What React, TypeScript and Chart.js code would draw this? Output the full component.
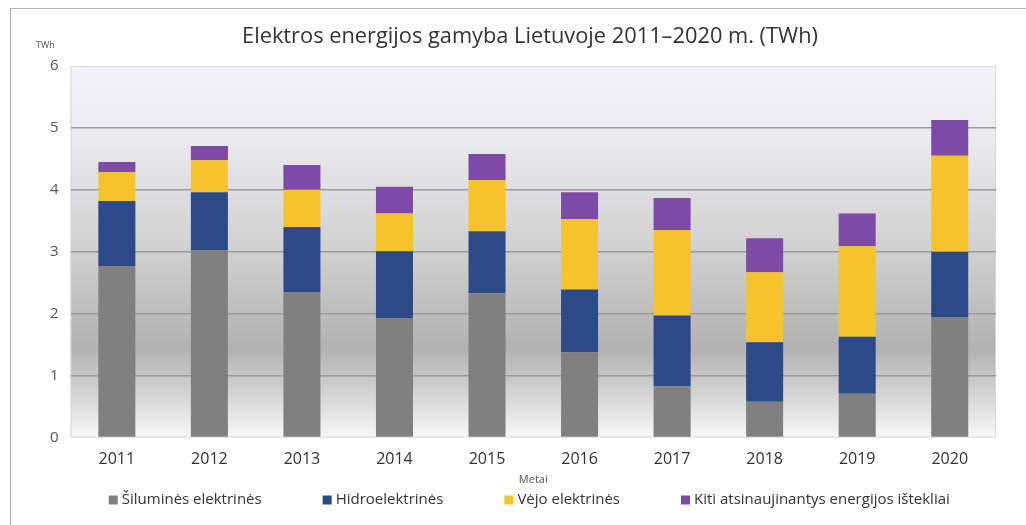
import React, { useEffect, useRef } from "react";
import { Chart, registerables } from "chart.js";

Chart.register(...registerables);

const years = ["2011", "2012", "2013", "2014", "2015", "2016", "2017", "2018", "2019", "2020"];
const thermal = [2.77, 3.03, 2.35, 1.93, 2.33, 1.38, 0.83, 0.58, 0.71, 1.94];
const hydro = [1.05, 0.93, 1.05, 1.08, 1.0, 1.01, 1.14, 0.96, 0.92, 1.06];
const wind = [0.47, 0.52, 0.6, 0.61, 0.83, 1.14, 1.38, 1.13, 1.46, 1.55];
const otherRenew = [0.16, 0.23, 0.4, 0.43, 0.42, 0.43, 0.52, 0.55, 0.53, 0.58];
const seriesLabels = [
  "Šiluminės elektrinės",
  "Hidroelektrinės",
  "Vėjo elektrinės",
  "Kiti atsinaujinantys energijos ištekliai",
];
const yTicks = [0, 1, 2, 3, 4, 5, 6];
const titleText = "Elektros energijos gamyba Lietuvoje 2011–2020 m. (TWh)";
const unitText = "TWh";
const xTitle = "Metai";

const colors = ["#808080", "#2c4a88", "#f5c42c", "#7d4aa8"];
const FONT = "'Open Sans', 'Noto Sans', sans-serif";

const bgPlugin = {
  id: "plotBg",
  beforeDraw(chart: any) {
    const { ctx, chartArea } = chart;
    if (!chartArea) return;
    const { left, top, right, bottom } = chartArea;
    const g = ctx.createLinearGradient(0, top, 0, bottom);
    g.addColorStop(0, "#f4f3fb");
    g.addColorStop(0.2, "#eaeaee");
    g.addColorStop(0.5, "#d0d0d0");
    g.addColorStop(0.76, "#b2b2b2");
    g.addColorStop(0.86, "#cdcdcd");
    g.addColorStop(1, "#f8f8f8");
    ctx.save();
    ctx.fillStyle = g;
    ctx.fillRect(left, top, right - left, bottom - top);
    ctx.strokeStyle = "#d8d8d8";
    ctx.lineWidth = 1;
    ctx.strokeRect(left + 0.5, top + 0.5, right - left - 1, bottom - top - 1);
    ctx.restore();
  },
  afterDraw(chart: any) {
    const { ctx, chartArea } = chart;
    ctx.save();
    // title
    ctx.fillStyle = "#333";
    ctx.font = `21.8px ${FONT}`;
    ctx.textAlign = "center";
    ctx.textBaseline = "middle";
    ctx.fillText(titleText, 530, 37);
    // unit label
    ctx.fillStyle = "#555";
    ctx.font = `9px ${FONT}`;
    ctx.textAlign = "left";
    ctx.fillText(unitText, 36, 45);
    // legend
    ctx.font = `15px ${FONT}`;
    const box = 9;
    const gapBoxText = 4;
    const gap = 61;
    const widths = seriesLabels.map((t) => box + gapBoxText + ctx.measureText(t).width);
    const total = widths.reduce((a, b) => a + b, 0) + gap * (widths.length - 1);
    let x = (chartArea.left + chartArea.right) / 2 - total / 2 - 4;
    const y = 500;
    seriesLabels.forEach((t, i) => {
      ctx.fillStyle = colors[i];
      ctx.fillRect(x, y - box / 2, box, box);
      ctx.fillStyle = "#333";
      ctx.textAlign = "left";
      ctx.fillText(t, x + box + gapBoxText, y);
      x += widths[i] + gap;
    });
    ctx.restore();
  },
};

export default function App() {
  const ref = useRef<HTMLCanvasElement>(null);
  useEffect(() => {
    if (!ref.current) return;
    const data = [thermal, hydro, wind, otherRenew];
    const chart = new Chart(ref.current, {
      type: "bar",
      data: {
        labels: years,
        datasets: data.map((d, i) => ({
          label: seriesLabels[i],
          data: d,
          backgroundColor: colors[i],
          borderWidth: 0,
          barPercentage: 0.4,
          categoryPercentage: 1,
        })),
      },
      options: {
        animation: false,
        responsive: false,
        layout: { padding: { left: 38, right: 30, top: 66, bottom: 39 } },
        plugins: {
          legend: { display: false },
          tooltip: { enabled: false },
          title: { display: false },
        },
        scales: {
          x: {
            stacked: true,
            grid: { display: false },
            border: { display: false },
            ticks: {
              color: "#333",
              font: { family: FONT, size: 16 },
              padding: 4,
              maxRotation: 0,
            },
            title: {
              display: true,
              text: xTitle,
              color: "#555",
              font: { family: FONT, size: 11 },
              padding: { top: 0, bottom: 0 },
            },
          },
          y: {
            stacked: true,
            min: 0,
            max: 6,
            afterBuildTicks(scale: any) {
              scale.ticks = yTicks.map((v) => ({ value: v }));
            },
            grid: {
              color: (c: any) => (c.tick && (c.tick.value === 0 || c.tick.value === 6) ? "rgba(0,0,0,0)" : "#9a9a9a"),
              lineWidth: 1.5,
              drawTicks: false,
            },
            border: { display: false },
            ticks: {
              color: "#555",
              font: { family: FONT, size: 15 },
              padding: 12,
            },
          },
        },
      },
      plugins: [bgPlugin],
    });
    return () => chart.destroy();
  }, []);
  return (
    <div
      style={{
        position: "absolute",
        left: 0,
        top: 0,
        width: 1026,
        height: 525,
        background: "#fff",
        overflow: "hidden",
      }}
    >
      <div
        style={{
          position: "absolute",
          left: 10,
          top: 8,
          width: 1030,
          height: 530,
          borderLeft: "1px solid #a8a8a8",
          borderTop: "1px solid #b0b0b0",
        }}
      />
      <canvas ref={ref} width={1026} height={525} style={{ position: "absolute", left: 0, top: 0 }} />
    </div>
  );
}
